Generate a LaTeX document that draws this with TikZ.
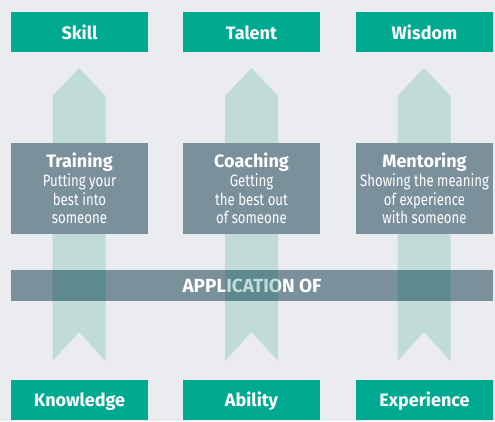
\documentclass[tikz,border=0pt]{standalone}
\usepackage{fontspec}
\setmainfont{Fira Sans}
\newfontfamily\narrowfont[FakeStretch=0.8]{Fira Sans}
\definecolor{bgc}{HTML}{EBECEF}
\definecolor{tealbox}{HTML}{00AA91}
\definecolor{slate}{HTML}{7A909B}
\definecolor{pale}{HTML}{C0DBD8}
\definecolor{deep}{HTML}{5E898E}
% one upward column arrow centred on x = #1
\newcommand\colarrow[1]{(#1-26.5,96) -- (#1,68) -- (#1+26.5,96) -- (#1+26.5,361) -- (#1,332) -- (#1-26.5,361) -- cycle}
% bold heading inside a method box
\newcommand\methodtitle[1]{{\normalfont\fontsize{18}{20}\selectfont\bfseries #1}}
\begin{document}
\begin{tikzpicture}[x=1pt,y=-1pt,
  goal/.style={fill=tealbox, text=white, minimum width=137pt, minimum height=40pt,
    inner sep=0pt, text height=14pt, text depth=0pt,
    font=\fontsize{18}{20}\selectfont\bfseries},
  method/.style={fill=slate, text=white, minimum width=137pt, minimum height=91pt,
    inner sep=0pt, align=center, font=\narrowfont\fontsize{16.5}{18.5}\selectfont},
  bar/.style={fill=slate, text=white, minimum width=482pt, minimum height=31pt,
    inner sep=0pt, text height=13pt, text depth=0pt,
    font=\fontsize{19}{20}\selectfont\bfseries}]
  % canvas
  \fill[bgc] (0,0) rectangle (495,421);
  \useasboundingbox (0,0) rectangle (495,421);

  % columns rising from the foundation to the outcome
  \fill[pale] \colarrow{79} \colarrow{251.5} \colarrow{424};

  % the shared band
  \node[bar] (app) at (252,285.5) {APPLICATION OF};
  \begin{scope}
    \clip \colarrow{79} \colarrow{251.5} \colarrow{424};
    \node[bar, fill=deep, text=pale] (appTint) at (252,285.5) {APPLICATION OF};
  \end{scope}

  % outcomes
  \node[goal] (skill)  at (79.5,32)  {Skill};
  \node[goal] (talent) at (251.5,32) {Talent};
  \node[goal] (wisdom) at (424.5,32) {Wisdom};

  % methods
  \node[method] (train) at (79.5,188.5)
    {\methodtitle{Training}\\[0.5pt]Putting your\\best into\\someone};
  \node[method] (coach) at (251.5,188.5)
    {\methodtitle{Coaching}\\[0.5pt]Getting\\the best out\\of someone};
  \node[method] (mentor) at (424.5,188.5)
    {\methodtitle{Mentoring}\\[0.5pt]Showing the meaning\\of experience\\with someone};

  % foundations
  \node[goal] (know)  at (79.5,399.5)  {Knowledge};
  \node[goal] (abil)  at (251.5,399.5) {Ability};
  \node[goal] (exper) at (424.5,399.5) {Experience};
\end{tikzpicture}
\end{document}
